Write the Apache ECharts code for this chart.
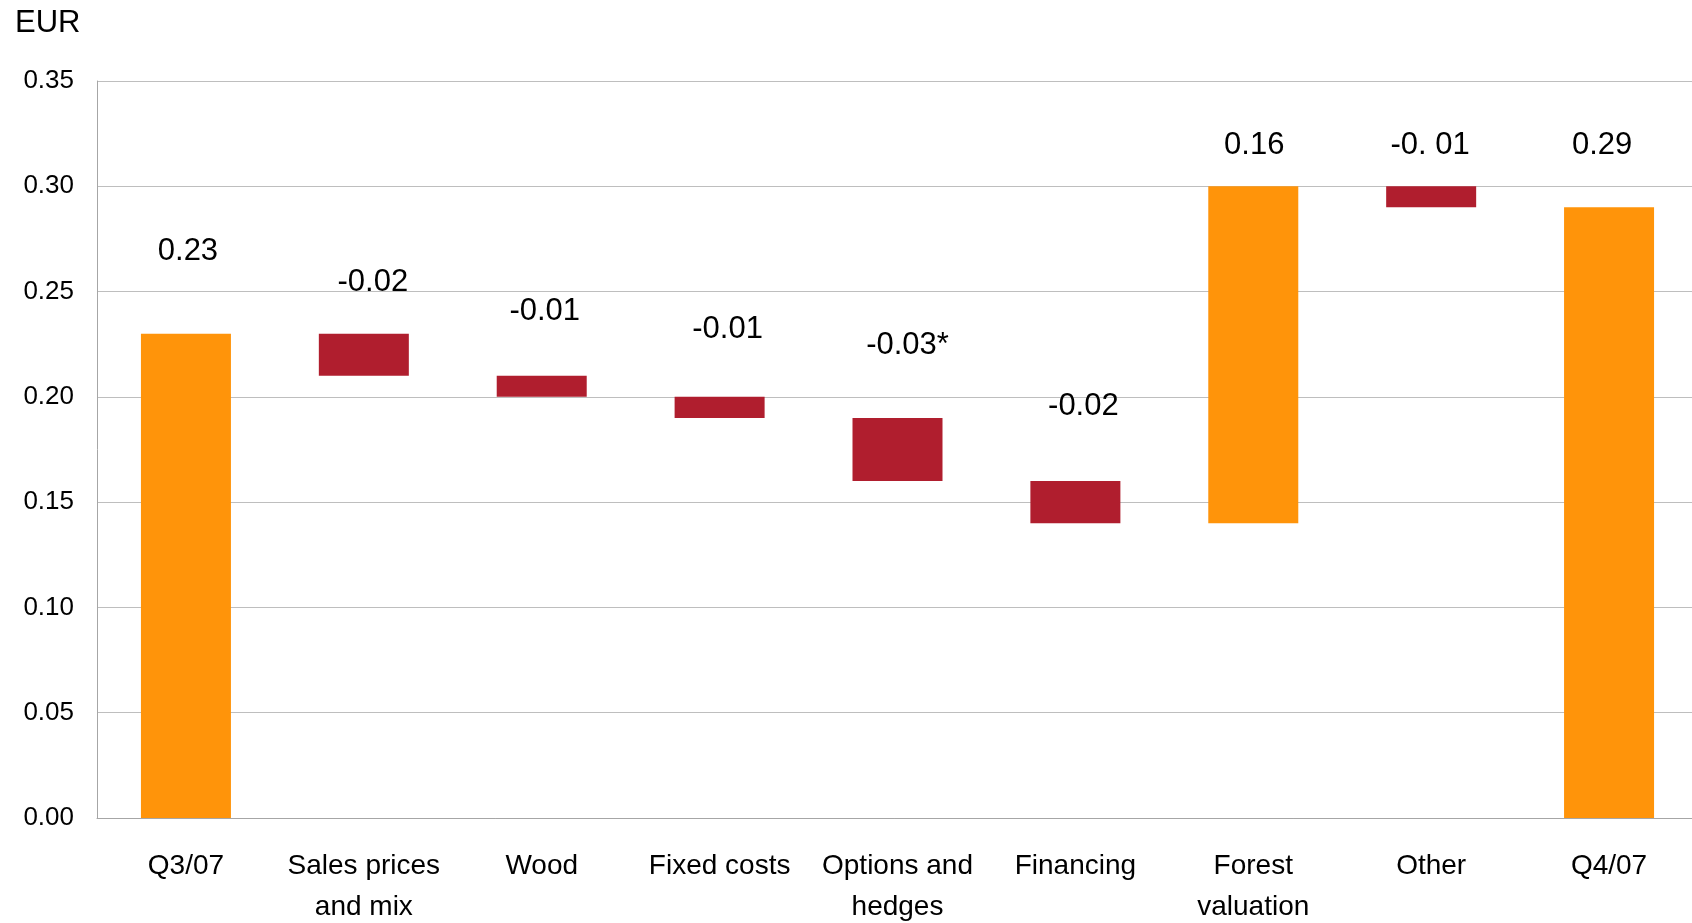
<!DOCTYPE html>
<html>
<head>
<meta charset="utf-8">
<title>EPS bridge Q3/07 to Q4/07</title>
<script src="https://cdn.jsdelivr.net/npm/echarts@6/dist/echarts.min.js"></script>
<style>
  html, body { margin: 0; padding: 0; background: #ffffff; }
  #chart { width: 1692px; height: 923px; }
</style>
</head>
<body>
<div id="chart"></div>
<script>
// Bridge steps from Q3/07 earnings per share to Q4/07 (EUR)
const categories = [
  'Q3/07', 'Sales prices\nand mix', 'Wood', 'Fixed costs',
  'Options and\nhedges', 'Financing', 'Forest\nvaluation', 'Other', 'Q4/07'
];
// true = a total bar standing on zero, false = a change from the running total
const isTotal = [true, false, false, false, false, false, false, false, true];
const values = [0.23, -0.02, -0.01, -0.01, -0.03, -0.02, 0.16, -0.01, 0.29];
const valueLabels = ['0.23', '-0.02', '-0.01', '-0.01', '-0.03*', '-0.02', '0.16', '-0. 01', '0.29'];
const yTicks = { min: 0, max: 0.35, step: 0.05 };

// Label placement: gap (px) from bar top to label centre, and horizontal nudge
const labelGap = [82, 51, 64, 67, 72, 75, 41, 41, 62];
const labelDx = [2, 9, 3, 8, 10, 8, 1, -1, -7];

const ORANGE = '#FF940A';
const RED = '#B01E2E';
const FONT = '"Liberation Sans", Arial, Helvetica, sans-serif';

// Build the invisible base and the visible segment of every step
const base = [];
const seg = [];
let running = 0;
values.forEach((v, i) => {
  if (isTotal[i]) {
    base.push(0);
    seg.push(v);
    running = v;
  } else if (v < 0) {
    base.push(+(running + v).toFixed(4));
    seg.push(-v);
    running = +(running + v).toFixed(4);
  } else {
    base.push(running);
    seg.push(v);
    running = +(running + v).toFixed(4);
  }
});

const LABEL_H = 31;
const segData = seg.map((h, i) => ({
  value: h,
  itemStyle: { color: (isTotal[i] || values[i] > 0) ? ORANGE : RED },
  label: {
    show: true,
    position: 'top',
    distance: 0,
    offset: [labelDx[i], -(labelGap[i] - LABEL_H / 2)],
    formatter: () => valueLabels[i]
  }
}));

const chart = echarts.init(document.getElementById('chart'), null, { renderer: 'canvas' });
chart.setOption({
  animation: false,
  backgroundColor: '#ffffff',
  textStyle: { fontFamily: FONT },
  title: {
    text: 'EUR',
    left: 15,
    top: 8,
    padding: 0,
    textStyle: { fontFamily: FONT, fontSize: 31, fontWeight: 'normal', color: '#000000' }
  },
  // the plot runs slightly past the right edge of the page
  grid: {
    left: 97, width: 1601, top: 81, bottom: 105,
    containLabel: false,
    outerBoundsMode: 'none'
  },
  xAxis: {
    type: 'category',
    data: categories,
    axisTick: { show: false },
    axisLine: { lineStyle: { color: '#A6A6A6', width: 1 } },
    axisLabel: {
      interval: 0,
      margin: 28,
      fontSize: 28,
      lineHeight: 41,
      color: '#000000',
      fontFamily: FONT
    }
  },
  yAxis: {
    type: 'value',
    min: yTicks.min,
    max: yTicks.max,
    interval: yTicks.step,
    axisLine: { show: true, lineStyle: { color: '#A6A6A6', width: 1 } },
    axisTick: { show: false },
    splitLine: { lineStyle: { color: '#BEBEBE', width: 1 } },
    axisLabel: {
      margin: 23,
      fontSize: 26,
      color: '#000000',
      fontFamily: FONT,
      formatter: v => v.toFixed(2)
    }
  },
  series: [
    {
      name: 'base',
      type: 'bar',
      stack: 'bridge',
      barWidth: 90,
      data: base,
      itemStyle: { color: 'rgba(0,0,0,0)' },
      emphasis: { disabled: true },
      silent: true
    },
    {
      name: 'step',
      type: 'bar',
      stack: 'bridge',
      barWidth: 90,
      data: segData,
      label: {
        fontSize: 31,
        lineHeight: LABEL_H,
        color: '#000000',
        fontFamily: FONT
      },
      emphasis: { disabled: true }
    }
  ]
});
</script>
</body>
</html>
